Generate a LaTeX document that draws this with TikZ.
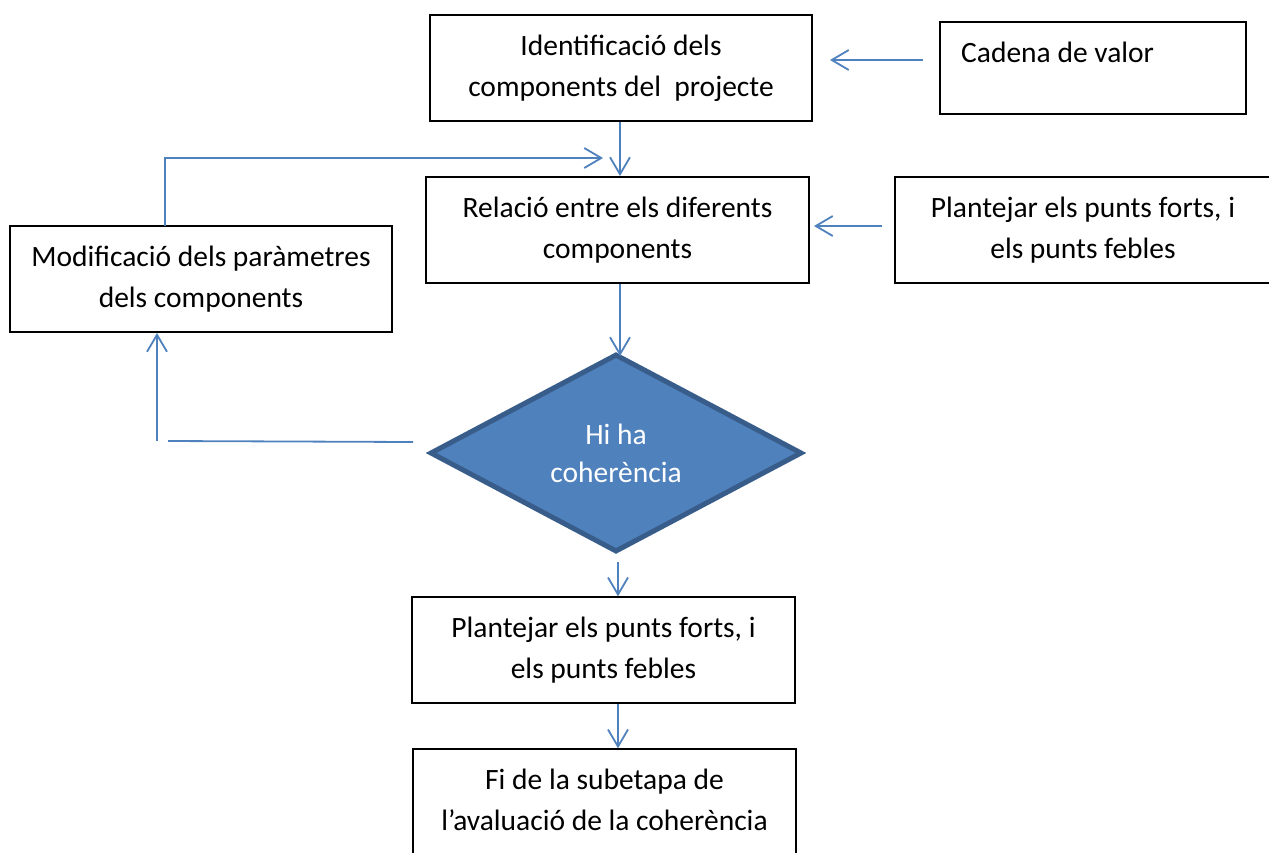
\documentclass[tikz,border=0pt]{standalone}
\usepackage{fontspec}
\setmainfont{Carlito}
\usetikzlibrary{arrows.meta,shapes.geometric,calc}
\definecolor{lineblue}{HTML}{4F81BD}
\definecolor{diafill}{HTML}{4F81BD}
\definecolor{diaedge}{HTML}{385D8A}
\begin{document}
\begin{tikzpicture}[x=1pt,y=-1pt,
  box/.style={draw=black, line width=1.4pt, fill=white, align=center,
    minimum width=382pt, minimum height=106pt, inner sep=0pt,
    font=\fontsize{29.5}{41}\selectfont},
  arr/.style={draw=lineblue, line width=1.8pt,
    -{Straight Barb[length=17pt,width=20pt,line width=1.8pt]}},
  ln/.style={draw=lineblue, line width=1.8pt}]
\useasboundingbox (0,0) rectangle (1269,852);
% boxes
\node[box] (b1) at (621,68) {Identificació dels\\components del\ \ projecte};
\node[box, minimum width=306pt, minimum height=92pt] (cad) at (1093,68) {};
\node[font=\fontsize{29.5}{41}\selectfont, anchor=west, inner sep=0pt] (cadt) at (961,52) {Cadena de valor};
\node[box, minimum width=383pt] (b2) at (617.5,230) {Relació entre els diferents\\components};
\node[box, minimum width=376pt] (pf1) at (1083,230) {Plantejar els punts forts, i\\els punts febles};
\node[box] (mod) at (201,279) {Modificació dels paràmetres\\dels components};
\node[diamond, draw=diaedge, fill=diafill, line width=5pt, aspect=1.87,
  minimum width=372pt, minimum height=198pt, inner sep=0pt, align=center,
  text=white, font=\fontsize{29.5}{38}\selectfont] (dia) at (616,453) {Hi ha\\coherència};
\node[box, minimum width=383pt] (pf2) at (603.5,650) {Plantejar els punts forts, i\\els punts febles};
\node[box, minimum width=383pt, minimum height=110pt] (fi) at (604.5,804) {};
\node[font=\fontsize{29.5}{41}\selectfont, align=center, inner sep=0pt] (fit) at (604.5,800) {Fi de la subetapa de\\l’avaluació de la coherència};
% coordinates
\coordinate (c1a) at (923,60);
\coordinate (c1b) at (830,60);
\coordinate (r1a) at (882,226);
\coordinate (r1b) at (814,226);
\coordinate (l1) at (165,226);
\coordinate (l2) at (165,158);
\coordinate (l3) at (603,158);
\coordinate (d1) at (413,442);
\coordinate (d2) at (168,441);
\coordinate (u1) at (157,441);
\coordinate (u2) at (157,333);
% connectors
\draw[arr] (c1a) -- (c1b);
\draw[arr] (b1.south -| 620,0) -- (620,176);
\draw[arr] (l1) -- (l2) -- (l3);
\draw[arr] (r1a) -- (r1b);
\draw[arr] (b2.south -| 620,0) -- (620,356);
\draw[ln] (d1) -- (d2);
\draw[arr] (u1) -- (u2);
\draw[arr] (618,562) -- (pf2.north -| 618,0);
\draw[arr] (pf2.south -| 618,0) -- (fi.north -| 618,0);
\end{tikzpicture}
\end{document}
